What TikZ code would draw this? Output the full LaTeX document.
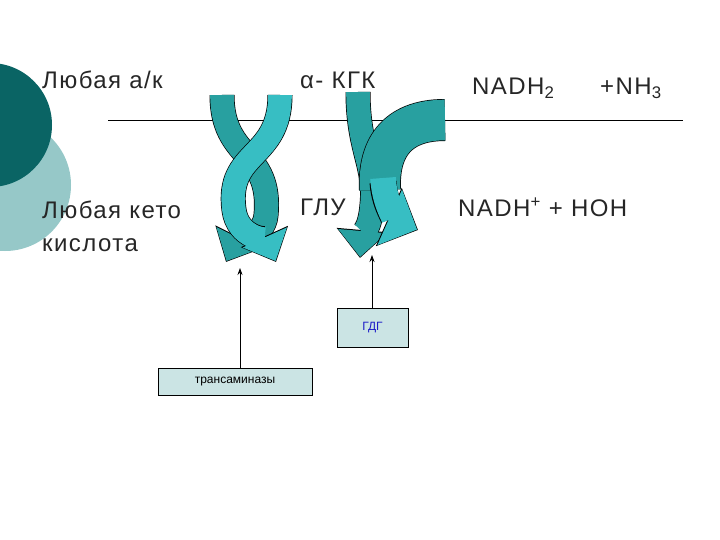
\documentclass[tikz,border=0pt]{standalone}
\usepackage{fontspec}
\setmainfont{Liberation Sans}
\usetikzlibrary{arrows.meta}
\definecolor{dk}{RGB}{10,100,100}
\definecolor{lt}{RGB}{150,200,200}
\definecolor{bandA}{RGB}{40,160,160}
\definecolor{bandB}{RGB}{55,190,195}
\definecolor{bluet}{RGB}{30,30,200}
\newfontfamily\spaced[LetterSpace=6]{Liberation Sans}
\tikzset{
 outl/.style={line width=25pt, black, -{Triangle[width=50pt,length=28pt]}},
 inn/.style={line width=23.6pt, -{Triangle[width=47pt,length=26pt]}, shorten >=1pt},
 lbl/.style={font=\spaced\fontsize{24}{26}\selectfont, text=black!85, anchor=west, inner sep=0},
 boxn/.style={draw, fill=lt!50, inner sep=0},
 ptr/.style={-{Stealth[length=7pt,width=5pt]}, line width=0.8pt}
}
\newcommand{\band}[2]{\draw[outl] #1; \draw[inn,#2] #1;}
\begin{document}
\begin{tikzpicture}[x=1pt,y=-1pt]
\useasboundingbox (0,0) rectangle (720,540);
\fill[lt] (5,185) circle (66);
\fill[dk] (-10,125) circle (62);
\draw[line width=0.6pt] (108,120) -- (683,120);
\node[lbl] (t1) at (42,80) {Любая а/к};
\node[lbl] (t2) at (300,80) {α- КГК};
\node[lbl] (t3) at (472,88) {NADH\textsubscript{2}};
\node[lbl] (t4) at (600,88) {+NH\textsubscript{3}};
\node[lbl] (t5) at (42,210) {Любая кето};
\node[lbl] (t6) at (42,245) {кислота};
\node[lbl] (t8) at (458,207) {NADH\textsuperscript{+} + HOH};
% left pair
\band{(222,95) .. controls (222,160) and (272,150) .. (266,215) .. controls (264,238) and (236,242) .. (226,262)}{bandA}
\band{(280,95) .. controls (280,160) and (226,150) .. (234,210) .. controls (238,238) and (266,240) .. (276,262)}{bandB}
\node[lbl] (t7) at (300,207) {ГЛУ};
% right pair
\band{(358,92) .. controls (358,150) and (376,165) .. (372,205) .. controls (370,230) and (362,235) .. (360,258)}{bandA}
\draw[line width=42pt, black] (445,120) .. controls (395,120) and (378,150) .. (380,190);
\draw[line width=40.6pt, bandA] (445,120) .. controls (395,120) and (378,150) .. (380,190);
\draw[line width=27pt, black, -{Triangle[width=62pt,length=32pt]}] (383,182) .. controls (385,210) and (400,222) .. (418,230);
\draw[line width=25.6pt, bandB, -{Triangle[width=59pt,length=30pt]}, shorten >=1pt] (383,178) .. controls (385,210) and (400,222) .. (418,230);
% boxes
\node[boxn, minimum width=71pt, minimum height=39pt, font=\fontsize{12}{14}\selectfont\color{bluet}] (g) at (372.5,327.5) {ГДГ};
\node[boxn, minimum width=154pt, minimum height=27pt, font=\fontsize{12}{14}\selectfont] (tr) at (235,381.5) {трансаминазы};
\coordinate (a1) at (240,268);
\coordinate (a2) at (372,255);
\draw[ptr] (240,368) -- (a1);
\draw[ptr] (g.north -| a2) -- (a2);
\end{tikzpicture}
\end{document}
